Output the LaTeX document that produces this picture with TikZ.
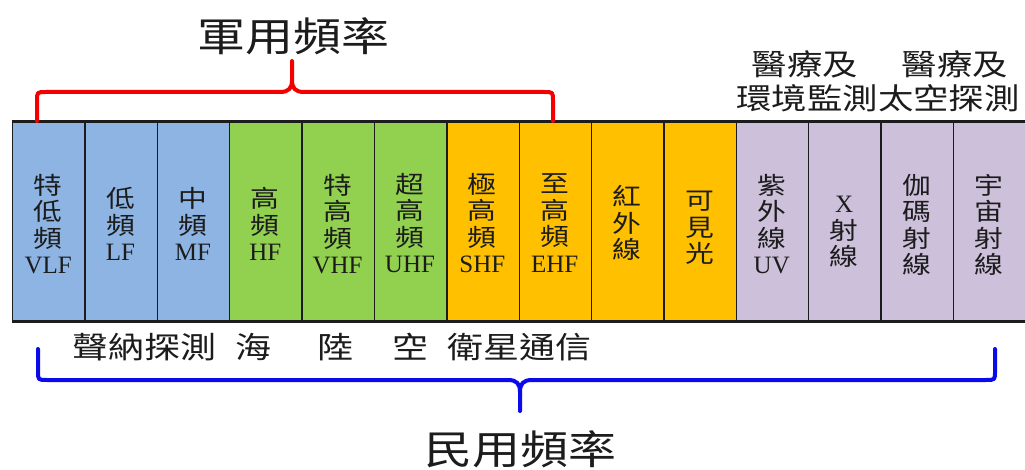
\documentclass[tikz,border=0pt]{standalone}
\usepackage{fontspec}
\setmainfont{Liberation Serif}
\newfontfamily\cjk[FakeStretch=1.2]{Noto Sans CJK TC}
\newfontfamily\lat{Liberation Serif}
\newcommand\latin[1]{{\lat\fontsize{25}{26}\selectfont #1}}
\definecolor{cblue}{RGB}{141,180,226}
\definecolor{cgreen}{RGB}{146,208,80}
\definecolor{corange}{RGB}{255,192,0}
\definecolor{cpurple}{RGB}{204,192,218}
\definecolor{ink}{RGB}{28,28,28}
\definecolor{bred}{RGB}{245,0,0}
\definecolor{bblue}{RGB}{10,10,235}
\begin{document}
\begin{tikzpicture}[x=1pt,y=-1pt,
  cell/.style={draw=ink, line width=1.4pt, minimum width=72.36pt, minimum height=198pt, inner sep=0pt, anchor=north west},
  lab/.style={font=\cjk\fontsize{24}{26.5}\selectfont, align=center, text=ink, inner sep=0pt},
  title/.style={font=\cjk\fontsize{40}{44}\selectfont, text=ink, inner sep=0pt},
  sub/.style={font=\cjk\fontsize{30}{34}\selectfont, text=ink, inner sep=0pt},
  rt/.style={font=\cjk\fontsize{29.5}{32}\selectfont, text=ink, inner sep=0pt},
  brk/.style={line width=4pt, line cap=round, line join=round}]
\useasboundingbox (0,0) rectangle (1025,470);
\fill[white] (0,0) rectangle (1025,470);
\foreach \i/\col/\dy/\txt in {
  1/cblue/224/{特\\低\\頻\\\latin{VLF}},
  2/cblue/224/{低\\頻\\\latin{LF}},
  3/cblue/224/{中\\頻\\\latin{MF}},
  4/cgreen/224/{高\\頻\\\latin{HF}},
  5/cgreen/224/{特\\高\\頻\\\latin{VHF}},
  6/cgreen/223/{超\\高\\頻\\\latin{UHF}},
  7/corange/223/{極\\高\\頻\\\latin{SHF}},
  8/corange/223/{至\\高\\頻\\\latin{EHF}},
  9/corange/223/{紅\\外\\線},
  10/corange/228/{可\\見\\光},
  11/cpurple/224/{紫\\外\\線\\\latin{UV}},
  12/cpurple/232/{\latin{X}\\射\\線},
  13/cpurple/225/{伽\\碼\\射\\線},
  14/cpurple/225/{宇\\宙\\射\\線}}{
  \node[cell, fill=\col] (cell\i) at ({12+72.36*(\i-1)},122) {};
  \node[lab] (lab\i) at ({12+72.36*(\i-0.5)},\dy) {\txt};
}
\draw[ink, line width=3pt] (cell1.north west) -- (cell14.north east);
\draw[ink, line width=3.5pt] (cell1.south west) -- (cell14.south east);

% titles and labels
\node[title] (mil) at (293,36) {軍用頻率};
\node[title] (civ) at (520,449) {民用頻率};
\node[rt] (m1) at (805,64) {醫療及};
\node[rt] (m2) at (955,64) {醫療及};
\node[rt] (m3) at (878,98) {環境監測太空探測};
\node[sub] (s1) at (144,347) {聲納探測};
\node[sub] (s2) at (253,347) {海};
\node[sub] (s3) at (335,347) {陸};
\node[sub] (s4) at (410,347) {空};
\node[sub] (s5) at (519,347) {衛星通信};

% red bracket
\coordinate (rl) at (37,121);
\coordinate (rr) at (553,121);
\coordinate (rt) at (292,61);
\draw[brk, bred] (rl) -- (37,101) .. controls (37,92) .. (46,92) -- (280,92)
  .. controls (289,92) and (292,88) .. (292,80) -- (rt) -- (292,80)
  .. controls (292,88) and (295,92) .. (304,92) -- (544,92)
  .. controls (553,92) .. (553,101) -- (rr);

% blue bracket
\coordinate (bl) at (38,349);
\coordinate (br) at (995,349);
\coordinate (bt) at (520,411);
\draw[brk, bblue] (bl) -- (38,371) .. controls (38,380) .. (47,380) -- (508,380)
  .. controls (517,380) and (520,384) .. (520,392) -- (bt) -- (520,392)
  .. controls (520,384) and (523,380) .. (532,380) -- (986,380)
  .. controls (995,380) .. (995,371) -- (br);
\end{tikzpicture}
\end{document}
